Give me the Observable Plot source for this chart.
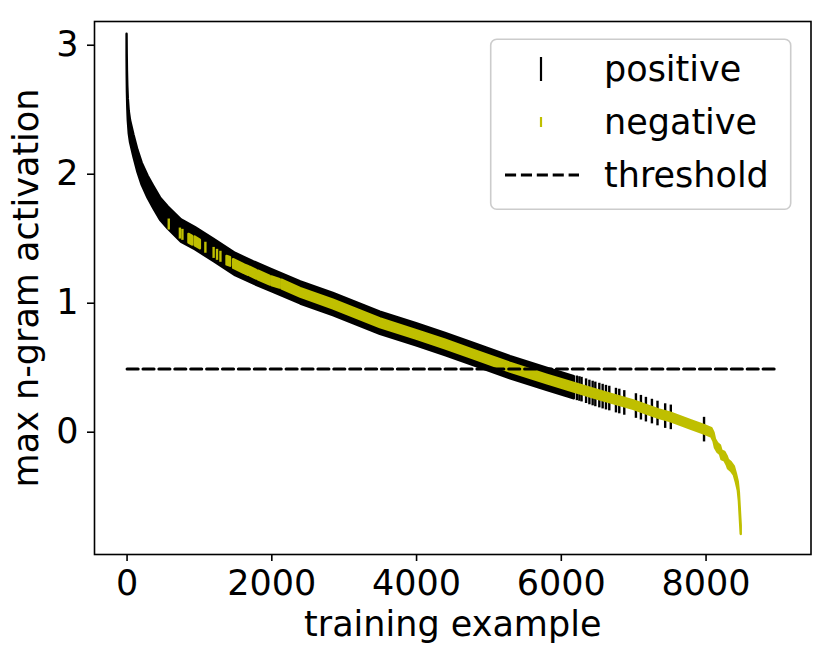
<!DOCTYPE html>
<html>
<head>
<meta charset="utf-8">
<script src="https://cdn.jsdelivr.net/npm/d3@7"></script>
<script src="https://cdn.jsdelivr.net/npm/@observablehq/plot@0.6"></script>
<style>
  html, body { margin: 0; padding: 0; background: #fff; }
  #chart { width: 830px; height: 660px; }
</style>
</head>
<body>
<div id="chart"></div>
<script>
// ---- data ----
// positive examples: max n-gram activation along the sorted training examples (dense run)
const posRanks = [0, 2, 5, 10, 17, 30, 48, 94, 150, 209, 290, 369, 462, 571, 751, 944, 1200, 1500, 1750, 2000, 2400, 2850, 3500, 4000, 4400, 4800, 5300, 5800, 6180];
const posValues = [3.00, 2.85, 2.72, 2.60, 2.50, 2.40, 2.33, 2.22, 2.10, 2.00, 1.90, 1.82, 1.73, 1.66, 1.56, 1.50, 1.41, 1.30, 1.235, 1.175, 1.08, 0.99, 0.845, 0.755, 0.68, 0.60, 0.50, 0.41, 0.345];
// negative examples (dense run)
const negRanks = [2140, 2400, 2850, 3500, 4000, 4400, 4800, 5300, 5800, 6180, 6500, 7000, 7350, 7513, 7800, 7972, 8080, 8110, 8130, 8160, 8200, 8220, 8260, 8290, 8310, 8350, 8390, 8420, 8445, 8460, 8470, 8480, 8486];
const negValues = [1.145, 1.08, 0.99, 0.845, 0.755, 0.68, 0.60, 0.50, 0.41, 0.345, 0.29, 0.21, 0.14, 0.115, 0.055, 0.02, -0.005, -0.04, -0.09, -0.12, -0.14, -0.18, -0.19, -0.22, -0.25, -0.27, -0.30, -0.36, -0.42, -0.50, -0.60, -0.70, -0.76];
// isolated positive examples in the tail
const posTailX = [6215, 6250, 6280, 6342, 6388, 6433, 6470, 6525, 6571, 6617, 6663, 6755, 6801, 6870, 7031, 7100, 7169, 7252, 7329, 7435, 7513, 7972];
const posTailY = [0.34, 0.335, 0.33, 0.318, 0.308, 0.30, 0.293, 0.284, 0.276, 0.268, 0.261, 0.245, 0.238, 0.227, 0.203, 0.19, 0.175, 0.16, 0.145, 0.125, 0.115, 0.02];
// isolated negative examples in the head
const negHeadX = [576, 730, 765, 1082, 1196, 1243, 1290];
const negHeadY = [1.61, 1.54, 1.53, 1.43, 1.39, 1.375, 1.36];
// small runs of negative examples in the head
const negRunStart = [855, 940, 1381, 1472, 1635, 1702, 1816, 2001];
const negRunEnd = [905, 1013, 1430, 1620, 1680, 1794, 1977, 2115];
const negRunStartY = [1.50, 1.48, 1.33, 1.305, 1.26, 1.245, 1.215, 1.17];
const negRunEndY = [1.485, 1.455, 1.32, 1.265, 1.25, 1.22, 1.175, 1.15];
const threshold = 0.49;
const thresholdSpan = [0, 9000];
const xTicks = [0, 2000, 4000, 6000, 8000];
const yTicks = [0, 1, 2, 3];
const xDomain = [-450, 9450];
const yDomain = [-0.948, 3.184];

// ---- layout ----
const W = 830, H = 660, mL = 94, mR = 19.5, mT = 21, mB = 106;
const pxPerUnit = (H - mT - mB) / (yDomain[1] - yDomain[0]);
const POS = "#000000", NEG = "#bfbf00";
const posLen = 12.3, negLen = 5.5; // marker half-lengths in px
const posHalf = posLen / pxPerUnit, negHalf = negLen / pxPerUnit;
const sw = 2.4;
const posAreaHalf = (posLen - sw / 2) / pxPerUnit, negAreaHalf = (negLen - sw / 2) / pxPerUnit;

const posDense = posRanks.map((r, i) => ({x: r, y: posValues[i]}));
const negDense = negRanks.map((r, i) => ({x: r, y: negValues[i]}));
const posTail = posTailX.map((x, i) => ({x, y: posTailY[i]}));
const negHead = negHeadX.map((x, i) => ({x, y: negHeadY[i]}));
const negRuns = negRunStart.flatMap((s, i) => [
  {x: s, y: negRunStartY[i], run: i},
  {x: negRunEnd[i], y: negRunEndY[i], run: i}
]);
const thr = thresholdSpan.map(x => ({x, y: threshold}));

const FONT = 35;
const chart = Plot.plot({
  width: W, height: H,
  marginLeft: mL, marginRight: mR, marginTop: mT, marginBottom: mB,
  style: {fontFamily: "DejaVu Sans", fontSize: FONT + "px", background: "white", color: "black"},
  x: {domain: xDomain},
  y: {domain: yDomain},
  marks: [
    // positives (drawn first)
    Plot.areaY(posDense, {x: "x", y1: d => d.y - posAreaHalf, y2: d => d.y + posAreaHalf, fill: POS, stroke: POS, strokeWidth: sw, strokeLinejoin: "round"}),
    Plot.ruleX(posTail, {x: "x", y1: d => d.y - posHalf, y2: d => d.y + posHalf, stroke: POS, strokeWidth: sw}),
    // negatives on top
    Plot.areaY(negDense, {x: "x", y1: d => d.y - negAreaHalf, y2: d => d.y + negAreaHalf, fill: NEG, stroke: NEG, strokeWidth: sw, strokeLinejoin: "round"}),
    Plot.areaY(negRuns, {x: "x", y1: d => d.y - negAreaHalf, y2: d => d.y + negAreaHalf, z: "run", fill: NEG, stroke: NEG, strokeWidth: sw, strokeLinejoin: "round"}),
    Plot.ruleX(negHead, {x: "x", y1: d => d.y - negHalf, y2: d => d.y + negHalf, stroke: NEG, strokeWidth: sw}),
    // threshold
    Plot.line(thr, {x: "x", y: "y", stroke: "black", strokeWidth: 3, strokeDasharray: "11.1,4.8"}),
    Plot.frame({stroke: "black", strokeWidth: 1.6}),
    Plot.axisX({ticks: xTicks, tickFormat: d => String(d), tickSize: 7, tickPadding: 9, strokeWidth: 1.6, fontSize: FONT, label: null}),
    Plot.axisY({ticks: yTicks, tickFormat: d => String(d), tickSize: 7, tickPadding: 9, strokeWidth: 1.6, fontSize: FONT, label: null}),
    Plot.text(["training example"], {frameAnchor: "bottom", dy: 70, lineAnchor: "middle", textAnchor: "middle", fontSize: FONT, fill: "black"}),
    Plot.text(["max n-gram activation"], {frameAnchor: "left", dx: -68, rotate: -90, lineAnchor: "middle", textAnchor: "middle", fontSize: FONT, fill: "black"})
  ]
});
document.getElementById("chart").appendChild(chart);

// ---- legend (upper right, inside the axes) ----
const svg = d3.select(chart);
const lg = svg.append("g").attr("font-family", "DejaVu Sans").attr("font-size", FONT).attr("text-anchor", "start");
lg.append("rect").attr("x", 490.7).attr("y", 39.3).attr("width", 300).attr("height", 170)
  .attr("rx", 6).attr("fill", "white").attr("fill-opacity", 0.8)
  .attr("stroke", "#cccccc").attr("stroke-width", 1.6);
const labels = ["positive", "negative", "threshold"];
const rowY = [69, 122, 175];
lg.append("line").attr("x1", 541).attr("x2", 541).attr("y1", rowY[0] - 12).attr("y2", rowY[0] + 12)
  .attr("stroke", POS).attr("stroke-width", 2.2);
lg.append("line").attr("x1", 541).attr("x2", 541).attr("y1", rowY[1] - 5).attr("y2", rowY[1] + 5)
  .attr("stroke", NEG).attr("stroke-width", 2.2);
lg.append("line").attr("x1", 505).attr("x2", 579).attr("y1", rowY[2]).attr("y2", rowY[2])
  .attr("stroke", "black").attr("stroke-width", 3).attr("stroke-dasharray", "11.1,4.8");
labels.forEach((t, i) => {
  lg.append("text").attr("x", 604).attr("y", rowY[i] + 12).attr("text-anchor", "start").attr("fill", "black").text(t);
});
</script>
</body>
</html>
